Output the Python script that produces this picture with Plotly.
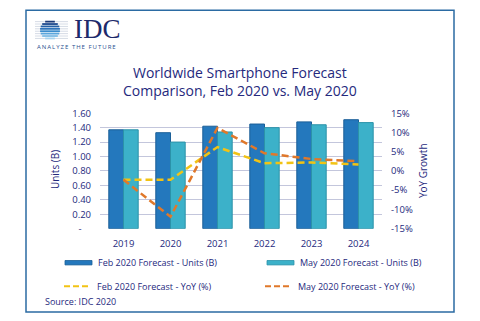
import plotly.graph_objects as go

# ---- data -------------------------------------------------------------
years = ["2019", "2020", "2021", "2022", "2023", "2024"]
feb_units = [1.37, 1.33, 1.42, 1.45, 1.48, 1.51]
may_units = [1.37, 1.20, 1.34, 1.40, 1.44, 1.47]
feb_yoy = [-2.3, -2.3, 6.2, 2.0, 2.2, 1.7]
may_yoy = [-2.3, -11.9, 11.2, 4.6, 3.1, 2.5]

units_ticks = [0, 0.2, 0.4, 0.6, 0.8, 1.0, 1.2, 1.4, 1.6]
units_labels = ["-\u2002\u2002"] + [f"{v:.2f}" for v in units_ticks[1:]]
yoy_ticks = [-15, -10, -5, 0, 5, 10, 15]
yoy_labels = [f"{v}%" for v in yoy_ticks]

series_names = [
    "Feb 2020 Forecast - Units (B)",
    "May 2020 Forecast - Units (B)",
    "Feb 2020 Forecast - YoY (%)",
    "May 2020 Forecast - YoY (%)",
]

# ---- styling ----------------------------------------------------------
W, H = 480, 321
NAVY = "#25297d"
FEB_BAR, FEB_EDGE = "#2478bd", "#1b5f98"
MAY_BAR, MAY_EDGE = "#3cb1c9", "#2b92a9"
FEB_LINE = "#f2c314"
MAY_LINE = "#e0782a"
GRID = "#c3c6dc"
FONT = "Open Sans"


def px(x):
    return x / W


def py(y):
    return 1 - y / H


fig = go.Figure()
fig.add_trace(go.Bar(
    x=years, y=feb_units, name=series_names[0],
    marker=dict(color=FEB_BAR, line=dict(color=FEB_EDGE, width=1)),
))
fig.add_trace(go.Bar(
    x=years, y=may_units, name=series_names[1],
    marker=dict(color=MAY_BAR, line=dict(color=MAY_EDGE, width=1)),
))
fig.add_trace(go.Scatter(
    x=years, y=feb_yoy, name=series_names[2], yaxis="y2", mode="lines",
    line=dict(color=FEB_LINE, width=2.5, dash="7px,4px"),
))
fig.add_trace(go.Scatter(
    x=years, y=may_yoy, name=series_names[3], yaxis="y2", mode="lines",
    line=dict(color=MAY_LINE, width=2.5, dash="7px,4px"),
))

shapes = []
annotations = []

# outer frame
shapes.append(dict(type="rect", xref="paper", yref="paper",
                   x0=px(26), x1=px(454), y0=py(318), y1=py(3.5),
                   line=dict(color="#2b6ba3", width=1.5), layer="below"))

# IDC globe mark: horizontal stripes clipped to a circle
cx, cy, r = 50, 24, 10
stripe_cols = ["#1c3a78", "#1f4a8e", "#2560a6", "#2d74bb", "#3b8ccd",
               "#5aa6dc", "#7fbde6", "#a6d3ef"]
n = len(stripe_cols)
for i, col in enumerate(stripe_cols):
    y = cy - r + (i + 0.5) * (2 * r / n)
    dy = y - cy
    half = (r * r - dy * dy) ** 0.5
    shapes.append(dict(type="line", xref="paper", yref="paper",
                       x0=px(35), x1=px(68), y0=py(y), y1=py(y),
                       line=dict(color="#b9c3d3", width=0.6)))
    shapes.append(dict(type="line", xref="paper", yref="paper",
                       x0=px(cx - half), x1=px(cx + half), y0=py(y), y1=py(y),
                       line=dict(color=col, width=1.8)))

annotations.append(dict(text="IDC", x=px(72), y=py(23), xref="paper", yref="paper",
                        xanchor="left", yanchor="middle", showarrow=False,
                        font=dict(family="Liberation Serif", size=27, color="#1d2a6b")))
annotations.append(dict(text="\u2009".join("ANALYZE THE FUTURE"), x=px(35), y=py(42),
                        xref="paper", yref="paper", xanchor="left", yanchor="middle",
                        showarrow=False,
                        font=dict(family=FONT, size=6, color="#2a4f8f")))

# chart title
annotations.append(dict(text="Worldwide Smartphone Forecast<br>Comparison, Feb 2020 vs. May 2020",
                        x=px(240), y=py(78), xref="paper", yref="paper",
                        xanchor="center", yanchor="middle", showarrow=False,
                        font=dict(family=FONT, size=14, color=NAVY)))

# axis titles
annotations.append(dict(text="Units (B)", x=px(55), y=py(170), xref="paper", yref="paper",
                        textangle=-90, showarrow=False, xanchor="center", yanchor="middle",
                        font=dict(family=FONT, size=10, color=NAVY)))
annotations.append(dict(text="YoY Growth", x=px(423), y=py(171), xref="paper", yref="paper",
                        textangle=-90, showarrow=False, xanchor="center", yanchor="middle",
                        font=dict(family=FONT, size=10, color=NAVY)))

# legend drawn as two columns
legend_pos = [(65, 266.5, "bar", FEB_BAR, FEB_EDGE),
              (267, 266.5, "bar", MAY_BAR, MAY_EDGE),
              (64, 291, "line", FEB_LINE, None),
              (265, 291, "line", MAY_LINE, None)]
for name, (x0, y0, kind, col, edge) in zip(series_names, legend_pos):
    if kind == "bar":
        shapes.append(dict(type="rect", xref="paper", yref="paper",
                           x0=px(x0), x1=px(x0 + 27), y0=py(y0 + 2.3), y1=py(y0 - 2.3),
                           fillcolor=col, line=dict(color=edge, width=0.8)))
    else:
        shapes.append(dict(type="line", xref="paper", yref="paper",
                           x0=px(x0), x1=px(x0 + 27), y0=py(y0), y1=py(y0),
                           line=dict(color=col, width=2, dash="6px,3px")))
    annotations.append(dict(text=name, x=px(x0 + 31), y=py(y0), xref="paper", yref="paper",
                            xanchor="left", yanchor="middle", showarrow=False,
                            font=dict(family=FONT, size=9, color=NAVY)))

annotations.append(dict(text="Source: IDC 2020", x=px(43), y=py(307), xref="paper", yref="paper",
                        xanchor="left", yanchor="middle", showarrow=False,
                        font=dict(family=FONT, size=9, color=NAVY)))

tick_font = dict(family=FONT, size=9.5, color=NAVY)

fig.update_layout(
    width=W, height=H,
    margin=dict(l=0, r=0, t=0, b=0),
    paper_bgcolor="white", plot_bgcolor="white",
    showlegend=False,
    barmode="group", bargap=0.375, bargroupgap=0,
    xaxis=dict(domain=[px(100), px(382)], tickfont=tick_font, showgrid=False,
               showline=False, ticks="", ticklabelstandoff=8),
    yaxis=dict(domain=[py(231), py(110.7)], range=[0, 1.6], tickvals=units_ticks,
               ticktext=units_labels, tickfont=tick_font, showgrid=True,
               gridcolor=GRID, gridwidth=1, zeroline=False, showline=False,
               ticks="", ticklabelstandoff=8),
    yaxis2=dict(overlaying="y", side="right", range=[-15, 15], tickvals=yoy_ticks,
                ticktext=yoy_labels, tickfont=tick_font, showgrid=False,
                zeroline=False, showline=False, ticks="", ticklabelstandoff=8),
    shapes=shapes,
    annotations=annotations,
)

fig.write_html("out.html")
